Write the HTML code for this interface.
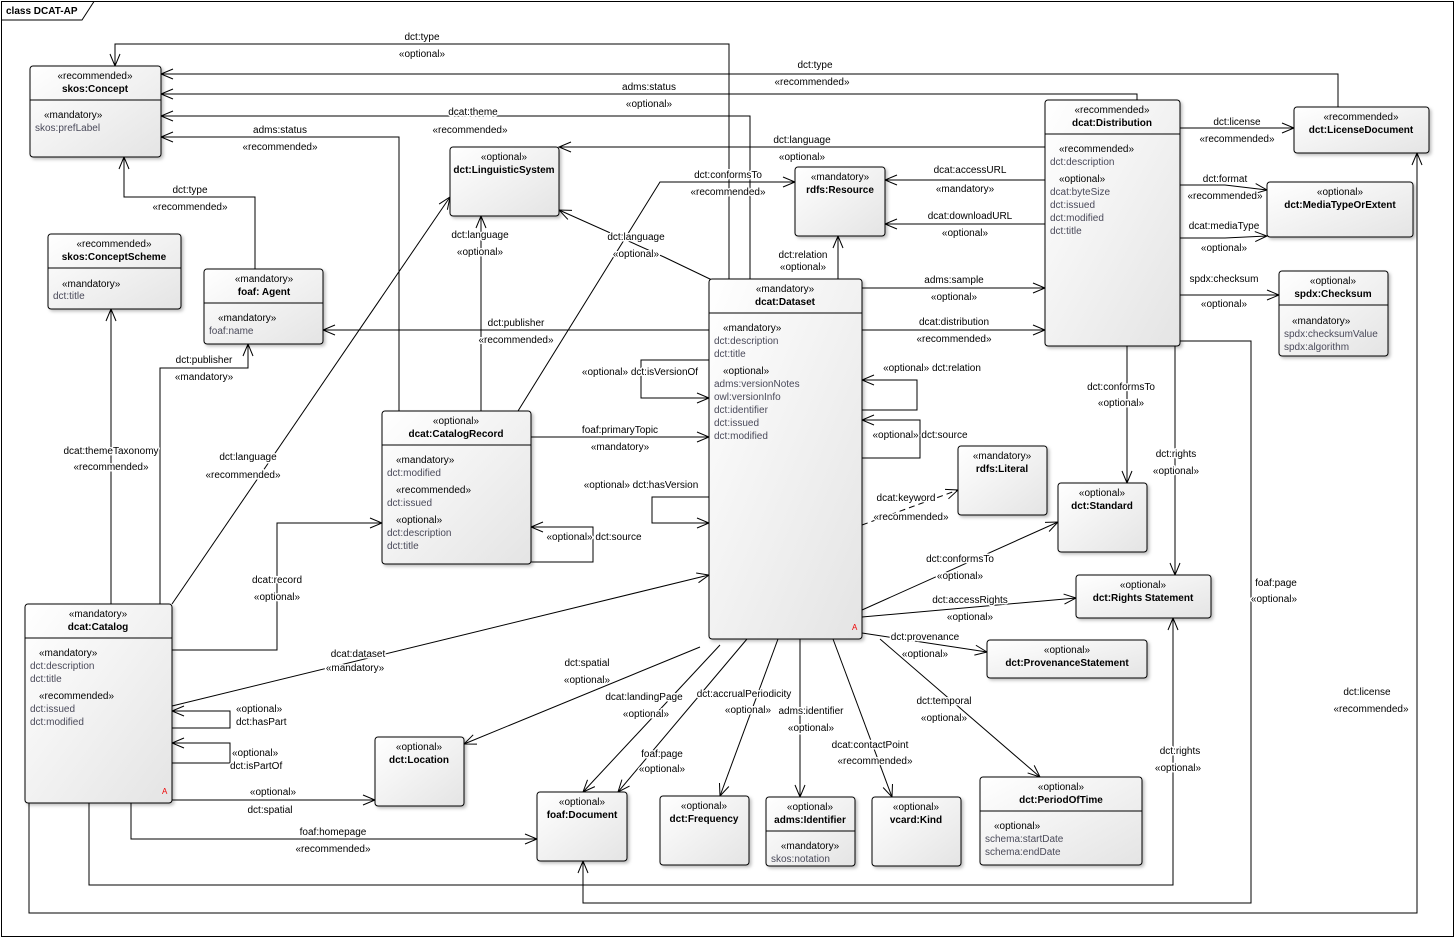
<!DOCTYPE html>
<html><head><meta charset="utf-8"><style>
html,body{margin:0;padding:0;background:#fff}
svg{display:block}
text{font-family:"Liberation Sans",sans-serif;font-size:10px;fill:#000}
.b{font-weight:bold}
.a{fill:#4a4a5a}
.m{text-anchor:middle}
.lbl text{paint-order:stroke;stroke:#fff;stroke-width:3px;stroke-linejoin:round}
line,polyline,path.c{stroke:#000;stroke-width:1;fill:none}
rect.bx{fill:url(#g);stroke:#000;stroke-width:1}
</style></head><body>
<svg width="1455" height="939" viewBox="0 0 1455 939" xmlns="http://www.w3.org/2000/svg">
<defs>
<linearGradient id="g" x1="0" y1="0" x2="1" y2="1"><stop offset="0" stop-color="#ffffff"/><stop offset="1" stop-color="#e4e4e4"/></linearGradient>
<filter id="s" x="-10%" y="-10%" width="130%" height="130%"><feDropShadow dx="2" dy="2" stdDeviation="1.5" flood-color="#000" flood-opacity="0.25"/></filter>
<marker id="ar" viewBox="-13 -7 14 14" refX="0" refY="0" markerWidth="14" markerHeight="14" orient="auto" markerUnits="userSpaceOnUse"><path d="M-12,-5 L0,0 L-12,5" stroke="#000" fill="none" stroke-width="1"/></marker>
</defs>
<rect x="0" y="0" width="1455" height="939" fill="#fff"/>
<rect x="1.5" y="1.5" width="1452" height="935" fill="none" stroke="#000"/>
<path class="c" d="M1.5,20 L82,20 L94,1.5"/>
<text x="6" y="14" class="b">class DCAT-AP</text>

<g marker-end="url(#ar)">
<polyline points="729,279 729,44 115,44 115,66"/>
<polyline points="1338,107 1338,74 161,74"/>
<polyline points="1137,100 1137,94 161,94"/>
<polyline points="750,279 750,116 161,116"/>
<polyline points="399,411 399,137 161,137"/>
<polyline points="255,269 255,197 124,197 124,157"/>
<polyline points="1045,147 559,147"/>
<polyline points="712,280 664,257 559,210"/>
<polyline points="481,411 481,216"/>
<polyline points="172,604 450,197"/>
<polyline points="518,411 660,182 795,182"/>
<polyline points="1045,180 885,180"/>
<polyline points="1045,224 885,224"/>
<polyline points="838,279 838,236"/>
<polyline points="709,330 323,330"/>
<polyline points="160,604 160,368 248,368 248,344"/>
<polyline points="111,604 111,309"/>
<polyline points="531,437 709,437"/>
<polyline points="709,360 641,360 641,398 709,398"/>
<polyline points="709,497 652,497 652,523 709,523"/>
<polyline points="862,410 917,410 917,380 862,380"/>
<polyline points="862,458 920,458 920,420 862,420"/>
<polyline points="531,562 593,562 593,527 531,527"/>
<polyline points="862,288 1045,288"/>
<polyline points="862,330 1045,330"/>
<polyline points="862,525 958,490" stroke-dasharray="6,4"/>
<polyline points="862,610 1058,522"/>
<polyline points="862,617 1076,598"/>
<polyline points="862,633 987,652"/>
<polyline points="880,639 1040,777"/>
<polyline points="833,639 892,797"/>
<polyline points="800,639 800,797"/>
<polyline points="778,639 720,796"/>
<polyline points="747,639 618,792"/>
<polyline points="720,645 583,792"/>
<polyline points="700,647 464,744"/>
<polyline points="172,706 709,575"/>
<polyline points="172,650 277,650 277,523 382,523"/>
<polyline points="172,728 230,728 230,711 172,711"/>
<polyline points="172,763 230,763 230,743 172,743"/>
<polyline points="172,800 375,800"/>
<polyline points="131,803 131,839 537,839"/>
<polyline points="89,803 89,885 1173,885 1173,618"/>
<polyline points="29,803 29,913 1417,913 1417,153"/>
<polyline points="1180,341 1251,341 1251,903 583,903 583,861"/>
<polyline points="1175,346 1175,575"/>
<polyline points="1127,346 1127,483"/>
<polyline points="1180,128 1294,128"/>
<polyline points="1180,185 1225,185 1267,190"/>
<polyline points="1180,238 1225,238 1267,236"/>
<polyline points="1180,295 1279,295"/>
</g>

<g filter="url(#s)">
<rect class="bx" x="30" y="66" width="131" height="91" rx="3"/>
<rect class="bx" x="48" y="234" width="133" height="75" rx="3"/>
<rect class="bx" x="204" y="269" width="119" height="75" rx="3"/>
<rect class="bx" x="450" y="147" width="109" height="69" rx="3"/>
<rect class="bx" x="382" y="411" width="149" height="153" rx="3"/>
<rect class="bx" x="25" y="604" width="147" height="199" rx="3"/>
<rect class="bx" x="709" y="279" width="153" height="360" rx="3"/>
<rect class="bx" x="795" y="167" width="90" height="69" rx="3"/>
<rect class="bx" x="1045" y="100" width="135" height="246" rx="3"/>
<rect class="bx" x="1294" y="107" width="135" height="46" rx="3"/>
<rect class="bx" x="1267" y="182" width="146" height="55" rx="3"/>
<rect class="bx" x="1279" y="271" width="109" height="85" rx="3"/>
<rect class="bx" x="958" y="446" width="89" height="69" rx="3"/>
<rect class="bx" x="1058" y="483" width="89" height="69" rx="3"/>
<rect class="bx" x="1076" y="575" width="135" height="43" rx="3"/>
<rect class="bx" x="987" y="640" width="160" height="38" rx="3"/>
<rect class="bx" x="375" y="737" width="89" height="69" rx="3"/>
<rect class="bx" x="537" y="792" width="90" height="69" rx="3"/>
<rect class="bx" x="660" y="796" width="89" height="69" rx="3"/>
<rect class="bx" x="766" y="797" width="89" height="69" rx="3"/>
<rect class="bx" x="872" y="797" width="89" height="69" rx="3"/>
<rect class="bx" x="980" y="777" width="162" height="88" rx="3"/>
</g>
<g>
<line x1="30" y1="100" x2="161" y2="100"/>
<line x1="48" y1="268" x2="181" y2="268"/>
<line x1="204" y1="303" x2="323" y2="303"/>
<line x1="382" y1="445" x2="531" y2="445"/>
<line x1="25" y1="638" x2="172" y2="638"/>
<line x1="709" y1="313" x2="862" y2="313"/>
<line x1="1045" y1="134" x2="1180" y2="134"/>
<line x1="1279" y1="305" x2="1388" y2="305"/>
<line x1="766" y1="831" x2="855" y2="831"/>
<line x1="980" y1="811" x2="1142" y2="811"/>
</g>

<text x="95" y="79" class="m">«recommended»</text><text x="95" y="92" class="m b">skos:Concept</text>
<text x="44" y="118">«mandatory»</text><text x="35" y="131" class="a">skos:prefLabel</text>
<text x="114" y="247" class="m">«recommended»</text><text x="114" y="260" class="m b">skos:ConceptScheme</text>
<text x="62" y="287">«mandatory»</text><text x="53" y="299" class="a">dct:title</text>
<text x="264" y="282" class="m">«mandatory»</text><text x="264" y="295" class="m b">foaf: Agent</text>
<text x="218" y="321">«mandatory»</text><text x="209" y="334" class="a">foaf:name</text>
<text x="504" y="160" class="m">«optional»</text><text x="504" y="173" class="m b">dct:LinguisticSystem</text>
<text x="456" y="424" class="m">«optional»</text><text x="456" y="437" class="m b">dcat:CatalogRecord</text>
<text x="396" y="463">«mandatory»</text><text x="387" y="476" class="a">dct:modified</text>
<text x="396" y="493">«recommended»</text><text x="387" y="506" class="a">dct:issued</text>
<text x="396" y="523">«optional»</text><text x="387" y="536" class="a">dct:description</text><text x="387" y="549" class="a">dct:title</text>
<text x="98" y="617" class="m">«mandatory»</text><text x="98" y="630" class="m b">dcat:Catalog</text>
<text x="39" y="656">«mandatory»</text><text x="30" y="669" class="a">dct:description</text><text x="30" y="682" class="a">dct:title</text>
<text x="39" y="699">«recommended»</text><text x="30" y="712" class="a">dct:issued</text><text x="30" y="725" class="a">dct:modified</text>
<text x="162" y="794" style="fill:#e00;font-size:8px">A</text>
<text x="785" y="292" class="m">«mandatory»</text><text x="785" y="305" class="m b">dcat:Dataset</text>
<text x="723" y="331">«mandatory»</text><text x="714" y="344" class="a">dct:description</text><text x="714" y="357" class="a">dct:title</text>
<text x="723" y="374">«optional»</text><text x="714" y="387" class="a">adms:versionNotes</text><text x="714" y="400" class="a">owl:versionInfo</text><text x="714" y="413" class="a">dct:identifier</text><text x="714" y="426" class="a">dct:issued</text><text x="714" y="439" class="a">dct:modified</text>
<text x="852" y="630" style="fill:#e00;font-size:8px">A</text>
<text x="840" y="180" class="m">«mandatory»</text><text x="840" y="193" class="m b">rdfs:Resource</text>
<text x="1112" y="113" class="m">«recommended»</text><text x="1112" y="126" class="m b">dcat:Distribution</text>
<text x="1059" y="152">«recommended»</text><text x="1050" y="165" class="a">dct:description</text>
<text x="1059" y="182">«optional»</text><text x="1050" y="195" class="a">dcat:byteSize</text><text x="1050" y="208" class="a">dct:issued</text><text x="1050" y="221" class="a">dct:modified</text><text x="1050" y="234" class="a">dct:title</text>
<text x="1361" y="120" class="m">«recommended»</text><text x="1361" y="133" class="m b">dct:LicenseDocument</text>
<text x="1340" y="195" class="m">«optional»</text><text x="1340" y="208" class="m b">dct:MediaTypeOrExtent</text>
<text x="1333" y="284" class="m">«optional»</text><text x="1333" y="297" class="m b">spdx:Checksum</text>
<text x="1292" y="324">«mandatory»</text><text x="1284" y="337" class="a">spdx:checksumValue</text><text x="1284" y="350" class="a">spdx:algorithm</text>
<text x="1002" y="459" class="m">«mandatory»</text><text x="1002" y="472" class="m b">rdfs:Literal</text>
<text x="1102" y="496" class="m">«optional»</text><text x="1102" y="509" class="m b">dct:Standard</text>
<text x="1143" y="588" class="m">«optional»</text><text x="1143" y="601" class="m b">dct:Rights Statement</text>
<text x="1067" y="653" class="m">«optional»</text><text x="1067" y="666" class="m b">dct:ProvenanceStatement</text>
<text x="419" y="750" class="m">«optional»</text><text x="419" y="763" class="m b">dct:Location</text>
<text x="582" y="805" class="m">«optional»</text><text x="582" y="818" class="m b">foaf:Document</text>
<text x="704" y="809" class="m">«optional»</text><text x="704" y="822" class="m b">dct:Frequency</text>
<text x="810" y="810" class="m">«optional»</text><text x="810" y="823" class="m b">adms:Identifier</text>
<text x="810" y="849" class="m">«mandatory»</text><text x="771" y="862" class="a">skos:notation</text>
<text x="916" y="810" class="m">«optional»</text><text x="916" y="823" class="m b">vcard:Kind</text>
<text x="1061" y="790" class="m">«optional»</text><text x="1061" y="803" class="m b">dct:PeriodOfTime</text>
<text x="994" y="829">«optional»</text><text x="985" y="842" class="a">schema:startDate</text><text x="985" y="855" class="a">schema:endDate</text>

<g class="lbl">
<text x="422" y="40" class="m">dct:type</text><text x="422" y="57" class="m">«optional»</text>
<text x="815" y="68" class="m">dct:type</text><text x="812" y="85" class="m">«recommended»</text>
<text x="649" y="90" class="m">adms:status</text><text x="649" y="107" class="m">«optional»</text>
<text x="473" y="115" class="m">dcat:theme</text><text x="470" y="133" class="m">«recommended»</text>
<text x="280" y="133" class="m">adms:status</text><text x="280" y="150" class="m">«recommended»</text>
<text x="190" y="193" class="m">dct:type</text><text x="190" y="210" class="m">«recommended»</text>
<text x="802" y="143" class="m">dct:language</text><text x="802" y="160" class="m">«optional»</text>
<text x="636" y="240" class="m">dct:language</text><text x="636" y="257" class="m">«optional»</text>
<text x="480" y="238" class="m">dct:language</text><text x="480" y="255" class="m">«optional»</text>
<text x="248" y="460" class="m">dct:language</text><text x="243" y="478" class="m">«recommended»</text>
<text x="728" y="178" class="m">dct:conformsTo</text><text x="728" y="195" class="m">«recommended»</text>
<text x="970" y="173" class="m">dcat:accessURL</text><text x="965" y="192" class="m">«mandatory»</text>
<text x="970" y="219" class="m">dcat:downloadURL</text><text x="965" y="236" class="m">«optional»</text>
<text x="803" y="258" class="m">dct:relation</text><text x="803" y="270" class="m">«optional»</text>
<text x="516" y="326" class="m">dct:publisher</text><text x="516" y="343" class="m">«recommended»</text>
<text x="204" y="363" class="m">dct:publisher</text><text x="204" y="380" class="m">«mandatory»</text>
<text x="111" y="454" class="m">dcat:themeTaxonomy</text><text x="111" y="470" class="m">«recommended»</text>
<text x="620" y="433" class="m">foaf:primaryTopic</text><text x="620" y="450" class="m">«mandatory»</text>
<text x="640" y="375" class="m">«optional» dct:isVersionOf</text>
<text x="641" y="488" class="m">«optional» dct:hasVersion</text>
<text x="932" y="371" class="m">«optional» dct:relation</text>
<text x="920" y="438" class="m">«optional» dct:source</text>
<text x="594" y="540" class="m">«optional» dct:source</text>
<text x="954" y="283" class="m">adms:sample</text><text x="954" y="300" class="m">«optional»</text>
<text x="954" y="325" class="m">dcat:distribution</text><text x="954" y="342" class="m">«recommended»</text>
<text x="906" y="501" class="m">dcat:keyword</text><text x="911" y="520" class="m">«recommended»</text>
<text x="960" y="562" class="m">dct:conformsTo</text><text x="960" y="579" class="m">«optional»</text>
<text x="970" y="603" class="m">dct:accessRights</text><text x="970" y="620" class="m">«optional»</text>
<text x="925" y="640" class="m">dct:provenance</text><text x="925" y="657" class="m">«optional»</text>
<text x="944" y="704" class="m">dct:temporal</text><text x="944" y="721" class="m">«optional»</text>
<text x="870" y="748" class="m">dcat:contactPoint</text><text x="875" y="764" class="m">«recommended»</text>
<text x="811" y="714" class="m">adms:identifier</text><text x="811" y="731" class="m">«optional»</text>
<text x="744" y="697" class="m">dct:accrualPeriodicity</text><text x="748" y="713" class="m">«optional»</text>
<text x="662" y="757" class="m">foaf:page</text><text x="662" y="772" class="m">«optional»</text>
<text x="644" y="700" class="m">dcat:landingPage</text><text x="646" y="717" class="m">«optional»</text>
<text x="587" y="666" class="m">dct:spatial</text><text x="587" y="683" class="m">«optional»</text>
<text x="358" y="657" class="m">dcat:dataset</text><text x="355" y="671" class="m">«mandatory»</text>
<text x="277" y="583" class="m">dcat:record</text><text x="277" y="600" class="m">«optional»</text>
<text x="236" y="712">«optional»</text><text x="236" y="725">dct:hasPart</text>
<text x="232" y="756">«optional»</text><text x="230" y="769">dct:isPartOf</text>
<text x="273" y="795" class="m">«optional»</text><text x="270" y="813" class="m">dct:spatial</text>
<text x="333" y="835" class="m">foaf:homepage</text><text x="333" y="852" class="m">«recommended»</text>
<text x="1176" y="457" class="m">dct:rights</text><text x="1176" y="474" class="m">«optional»</text>
<text x="1180" y="754" class="m">dct:rights</text><text x="1178" y="771" class="m">«optional»</text>
<text x="1121" y="390" class="m">dct:conformsTo</text><text x="1121" y="406" class="m">«optional»</text>
<text x="1276" y="586" class="m">foaf:page</text><text x="1274" y="602" class="m">«optional»</text>
<text x="1367" y="695" class="m">dct:license</text><text x="1371" y="712" class="m">«recommended»</text>
<text x="1237" y="125" class="m">dct:license</text><text x="1237" y="142" class="m">«recommended»</text>
<text x="1225" y="182" class="m">dct:format</text><text x="1225" y="199" class="m">«recommended»</text>
<text x="1224" y="229" class="m">dcat:mediaType</text><text x="1224" y="251" class="m">«optional»</text>
<text x="1224" y="282" class="m">spdx:checksum</text><text x="1224" y="307" class="m">«optional»</text>
</g>
</svg>
</body></html>
